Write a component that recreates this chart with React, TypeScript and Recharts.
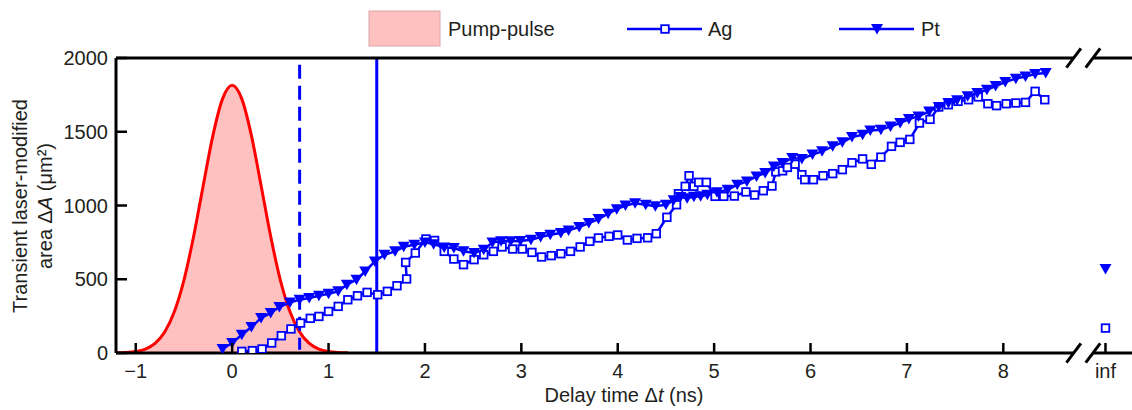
import { Area, ComposedChart, Label, Line, ReferenceLine, XAxis, YAxis } from "recharts";

// pump pulse envelope (ns, arb. scaled to area axis)
const PULSE_T = [-1.2, -1.1, -1.0, -0.9, -0.8, -0.7, -0.6, -0.5, -0.4, -0.3, -0.2, -0.1, 0, 0.1, 0.2, 0.3, 0.4, 0.5, 0.6, 0.7, 0.8, 0.9, 1.0, 1.1, 1.2];
const PULSE_VAL = [1, 3, 10, 27, 65, 142, 279, 494, 790, 1136, 1474, 1723, 1815, 1723, 1474, 1136, 790, 494, 279, 142, 65, 27, 10, 3, 1];

// Pt
const PT_T = [-0.10, 0.00, 0.10, 0.20, 0.30, 0.40, 0.49, 0.60, 0.70, 0.80, 0.90, 1.00, 1.10, 1.19, 1.29, 1.38, 1.48, 1.58, 1.69, 1.78, 1.89, 2.00, 2.09, 2.20, 2.30, 2.40, 2.51, 2.61, 2.70, 2.79, 2.89, 2.99, 3.10, 3.20, 3.30, 3.41, 3.49, 3.60, 3.70, 3.80, 3.90, 3.99, 4.08, 4.18, 4.29, 4.39, 4.50, 4.58, 4.65, 4.72, 4.79, 4.86, 4.93, 5.03, 5.14, 5.24, 5.34, 5.44, 5.53, 5.62, 5.71, 5.81, 5.91, 6.02, 6.12, 6.23, 6.33, 6.43, 6.54, 6.62, 6.73, 6.83, 6.93, 7.02, 7.12, 7.23, 7.33, 7.43, 7.52, 7.63, 7.73, 7.83, 7.92, 8.02, 8.13, 8.23, 8.33, 8.44];
const PT_AREA = [27, 68, 124, 176, 237, 271, 312, 343, 361, 373, 388, 402, 418, 463, 497, 553, 621, 666, 689, 720, 734, 750, 738, 715, 712, 690, 678, 700, 750, 757, 757, 760, 768, 786, 802, 814, 831, 854, 881, 908, 944, 975, 1000, 1015, 1005, 995, 1005, 1035, 1058, 1050, 1060, 1062, 1073, 1089, 1107, 1141, 1163, 1197, 1220, 1265, 1288, 1322, 1315, 1345, 1367, 1401, 1428, 1464, 1480, 1509, 1514, 1536, 1559, 1586, 1604, 1638, 1668, 1695, 1713, 1740, 1763, 1785, 1810, 1837, 1860, 1875, 1891, 1898];

// Ag
const AG_T = [0.10, 0.21, 0.31, 0.41, 0.51, 0.61, 0.71, 0.81, 0.90, 1.00, 1.10, 1.20, 1.30, 1.40, 1.51, 1.61, 1.71, 1.81, 1.80, 1.90, 2.01, 2.10, 2.20, 2.30, 2.40, 2.51, 2.61, 2.71, 2.80, 2.91, 3.01, 3.11, 3.21, 3.31, 3.41, 3.51, 3.61, 3.71, 3.80, 3.91, 4.00, 4.10, 4.20, 4.31, 4.40, 4.51, 4.61, 4.63, 4.70, 4.74, 4.79, 4.84, 4.92, 5.01, 5.10, 5.21, 5.33, 5.42, 5.51, 5.60, 5.64, 5.71, 5.76, 5.84, 5.91, 5.94, 6.03, 6.13, 6.23, 6.33, 6.43, 6.54, 6.63, 6.73, 6.84, 6.93, 7.03, 7.13, 7.24, 7.33, 7.43, 7.53, 7.64, 7.74, 7.84, 7.93, 8.03, 8.13, 8.23, 8.33, 8.43];
const AG_AREA = [11, 16, 27, 68, 117, 163, 203, 235, 248, 282, 316, 361, 388, 411, 395, 418, 456, 502, 614, 678, 773, 763, 689, 637, 599, 633, 666, 689, 719, 705, 705, 682, 651, 660, 673, 689, 719, 757, 780, 791, 800, 766, 777, 781, 809, 920, 1005, 1080, 1130, 1202, 1130, 1157, 1157, 1062, 1062, 1064, 1092, 1071, 1100, 1132, 1228, 1235, 1258, 1280, 1209, 1175, 1175, 1202, 1216, 1243, 1290, 1316, 1279, 1328, 1401, 1428, 1448, 1559, 1584, 1668, 1683, 1706, 1717, 1736, 1690, 1677, 1690, 1695, 1699, 1774, 1717];

// values at "inf" delay
const PT_INF = 569;
const AG_INF = 169;
const INF_X = 9.06;

const X_TICKS = [-1, 0, 1, 2, 3, 4, 5, 6, 7, 8, INF_X];
const X_TICK_LABELS = ["\u22121", "0", "1", "2", "3", "4", "5", "6", "7", "8", "inf"];
const Y_TICKS = [0, 500, 1000, 1500, 2000];

const X_MIN = -1.205;
const X_MAX = 9.335;
const BREAK_A = 8.73;
const BREAK_B = 8.93;

const pulseData = PULSE_T.map((t, i) => ({ x: t, y: PULSE_VAL[i] }));
const ptData = PT_T.map((t, i) => ({ x: t, y: PT_AREA[i] }));
const agData = AG_T.map((t, i) => ({ x: t, y: AG_AREA[i] }));

const BLUE = "#0000ff";
const FONT = "'Liberation Sans', Arial, sans-serif";
const TXT = "#231f20";
const FS = 20;

const SquareDot = (props: any) => {
    const { cx, cy, index } = props;
    if (cx == null || cy == null) return <g key={index} />;
    return <rect key={index} x={cx - 3.8} y={cy - 3.8} width={7.6} height={7.6} fill="#fff" stroke={BLUE} strokeWidth={1.8} />;
};

const TriDot = (props: any) => {
    const { cx, cy, index } = props;
    if (cx == null || cy == null) return <g key={index} />;
    return <path key={index} d={`M${cx - 6},${cy - 5}L${cx + 6},${cy - 5}L${cx},${cy + 5.5}Z`} fill={BLUE} />;
};

// tick label plus an inward tick stub
const XTick = (props: any) => {
    const { x, y, payload } = props;
    const i = X_TICKS.indexOf(payload.value);
    return (
        <g>
            <rect x={x - 1.25} y={y - 10} width={2.5} height={10} fill="#000" />
            <text x={x} y={y + 18} dy="0.35em" textAnchor="middle" fontSize={FS} fontFamily={FONT} fill={TXT}>{X_TICK_LABELS[i]}</text>
        </g>
    );
};

const YTick = (props: any) => {
    const { x, y, payload } = props;
    return (
        <g>
            <rect x={x} y={y - 1.25} width={11} height={2.5} fill="#000" />
            <text x={x - 8} y={y} dy="0.35em" textAnchor="end" fontSize={FS} fontFamily={FONT} fill={TXT}>{payload.value}</text>
        </g>
    );
};

function Legend() {
    return (
        <svg width={1132} height={58} style={{ position: "absolute", left: 0, top: 0 }}>
            <rect x={369} y={11} width={71} height={35} fill="#ffc0c0" stroke="#d9a8a8" strokeWidth={1} />
            <text x={448} y={29} dy="0.35em" fontSize={FS} fontFamily={FONT} fill={TXT}>Pump-pulse</text>
            <line x1={627} x2={702} y1={29} y2={29} stroke={BLUE} strokeWidth={2.5} />
            <rect x={661.2} y={25.2} width={7.6} height={7.6} fill="#fff" stroke={BLUE} strokeWidth={1.8} />
            <text x={708} y={29} dy="0.35em" fontSize={FS} fontFamily={FONT} fill={TXT}>Ag</text>
            <line x1={839} x2={914} y1={29} y2={29} stroke={BLUE} strokeWidth={2.5} />
            <path d="M871,24L883,24L877,34.5Z" fill={BLUE} />
            <text x={921} y={29} dy="0.35em" fontSize={FS} fontFamily={FONT} fill={TXT}>Pt</text>
        </svg>
    );
}

const slash = (cx: number, cy: number) => [
    { x: cx - 0.075, y: cy - 65 },
    { x: cx + 0.075, y: cy + 65 },
];

export default function App() {
    return (
        <div style={{ position: "absolute", left: 0, top: 0, width: 1132, height: 410, background: "#fff" }}>
            <ComposedChart width={1132} height={410} margin={{ top: 58, right: 0, bottom: 0, left: 0 }}>
                <XAxis type="number" dataKey="x" domain={[X_MIN, X_MAX]} ticks={X_TICKS} allowDataOverflow
                    axisLine={false} tickLine={false} tickSize={0} tickMargin={0} height={57} tick={XTick} interval={0}>
                    <Label content={() => (
                        <text x={624} y={395} dy="0.35em" textAnchor="middle" fontSize={FS} fontFamily={FONT} fill={TXT}>
                            Delay time Δ<tspan fontStyle="italic">t</tspan> (ns)
                        </text>
                    )} />
                </XAxis>
                <YAxis type="number" domain={[0, 2000]} ticks={Y_TICKS} width={116} allowDataOverflow
                    axisLine={{ stroke: "#000", strokeWidth: 3 }} tickLine={false} tickSize={0} tickMargin={0} tick={YTick} interval={0}>
                    <Label content={() => (
                        <g fontSize={FS} fontFamily={FONT} fill={TXT}>
                            <text x={20} y={206} dy="0.35em" textAnchor="middle" transform="rotate(-90 20 206)">Transient laser-modified</text>
                            <text x={45} y={206} dy="0.35em" textAnchor="middle" transform="rotate(-90 45 206)">
                                area Δ<tspan fontStyle="italic">A</tspan> (μm²)
                            </text>
                        </g>
                    )} />
                </YAxis>

                <Area data={pulseData} dataKey="y" type="monotone" stroke="#ff0000" strokeWidth={3} fill="#ffc0c0" fillOpacity={1} isAnimationActive={false} />

                <ReferenceLine segment={[{ x: 0.7, y: 1955 }, { x: 0.7, y: 22 }]} stroke={BLUE} strokeWidth={3} strokeDasharray="14 7" ifOverflow="visible" />
                <ReferenceLine x={1.5} stroke={BLUE} strokeWidth={3} ifOverflow="visible" />

                <Line data={agData} dataKey="y" type="linear" stroke={BLUE} strokeWidth={2.5} dot={SquareDot} isAnimationActive={false} />
                <Line data={ptData} dataKey="y" type="linear" stroke={BLUE} strokeWidth={2.5} dot={TriDot} isAnimationActive={false} />
                <Line data={[{ x: INF_X, y: PT_INF }]} dataKey="y" stroke="none" dot={TriDot} isAnimationActive={false} />
                <Line data={[{ x: INF_X, y: AG_INF }]} dataKey="y" stroke="none" dot={SquareDot} isAnimationActive={false} />

                {/* frame with axis break */}
                <ReferenceLine segment={[{ x: X_MIN, y: 2000 }, { x: BREAK_A, y: 2000 }]} stroke="#000" strokeWidth={3} ifOverflow="visible" />
                <ReferenceLine segment={[{ x: BREAK_B, y: 2000 }, { x: X_MAX, y: 2000 }]} stroke="#000" strokeWidth={3} ifOverflow="visible" />
                <ReferenceLine segment={[{ x: X_MIN, y: 0 }, { x: BREAK_A, y: 0 }]} stroke="#000" strokeWidth={3} ifOverflow="visible" />
                <ReferenceLine segment={[{ x: BREAK_B, y: 0 }, { x: X_MAX, y: 0 }]} stroke="#000" strokeWidth={3} ifOverflow="visible" />
                <ReferenceLine segment={slash(BREAK_A, 2000)} stroke="#000" strokeWidth={3} ifOverflow="visible" />
                <ReferenceLine segment={slash(BREAK_B, 2000)} stroke="#000" strokeWidth={3} ifOverflow="visible" />
                <ReferenceLine segment={slash(BREAK_A, 0)} stroke="#000" strokeWidth={3} ifOverflow="visible" />
                <ReferenceLine segment={slash(BREAK_B, 0)} stroke="#000" strokeWidth={3} ifOverflow="visible" />
            </ComposedChart>
            <Legend />
        </div>
    );
}
